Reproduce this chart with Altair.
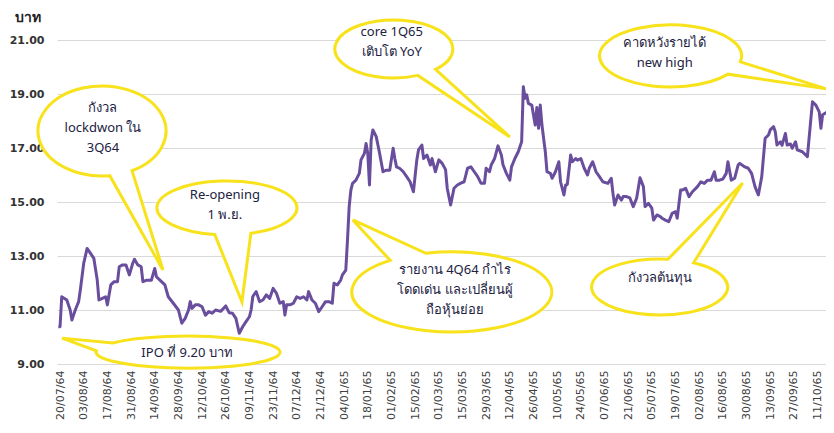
import math
import altair as alt
import pandas as pd

# ---- price series (day offset from 20/07/64, price in baht) ----
days = [
    -1, 0, 1, 4, 6, 7, 9, 11, 12, 14,
    16, 18, 20, 22, 23, 25, 27, 28, 30, 32,
    34, 35, 37, 39, 41, 43, 44, 46, 48, 49,
    51, 54, 56, 57, 60, 62, 64, 67, 70, 72,
    74, 76, 77, 78, 80, 82, 84, 86, 88, 90,
    92, 95, 98, 100, 102, 104, 106, 108, 110, 112,
    113, 114, 116, 118, 120, 122, 124, 126, 128, 130,
    132, 133, 134, 136, 138, 140, 142, 144, 146, 147,
    149, 151, 153, 155, 157, 159, 161, 162, 164, 166,
    167, 169, 170, 171, 172, 173, 175, 177, 178, 180,
    181, 182, 183, 184, 185, 187, 188, 189, 191, 193,
    195, 197, 198, 199, 201, 203, 205, 207, 209, 211,
    212, 214, 215, 217, 219, 220, 222, 224, 226, 228,
    229, 231, 233, 235, 237, 239, 241, 243, 245, 247,
    249, 251, 252, 254, 255, 257, 259, 261, 262, 264,
    266, 267, 269, 271, 273, 274, 275, 276, 277, 279,
    281, 282, 283, 284, 285, 287, 288, 290, 291, 293,
    295, 296, 298, 299, 300, 302, 303, 305, 306, 308,
    310, 312, 313, 315, 317, 319, 321, 324, 326, 327,
    328, 330, 332, 333, 335, 337, 339, 341, 343, 345,
    346, 348, 350, 351, 353, 355, 356, 358, 360, 362,
    364, 365, 367, 368, 370, 372, 374, 377, 379, 381,
    383, 385, 387, 388, 390, 392, 394, 395, 397, 399,
    401, 402, 405, 407, 409, 411, 413, 415, 417, 419,
    420, 422, 423, 424, 426, 427, 429, 430, 432, 433,
    435, 436, 439, 442, 444, 445, 447, 449, 450, 451,
    454, 456, 457,
]
prices = [
    10.38, 10.38, 11.49, 11.37, 11.0, 10.63, 11.0, 11.31, 11.74, 12.73,
    13.28, 13.1, 12.91, 12.11, 11.37, 11.43, 11.49, 11.19, 11.93, 12.05,
    12.05, 12.6, 12.67, 12.67, 12.3, 12.73, 12.88, 12.67, 12.6, 12.05,
    12.1, 12.1, 12.54, 12.23, 12.05, 11.93, 11.49, 11.25, 11.0, 10.51,
    10.69, 11.0, 11.31, 11.06, 11.19, 11.19, 11.12, 10.81, 10.94, 10.88,
    11.0, 10.95, 11.15, 10.9, 10.88, 10.69, 10.14, 10.38, 10.57, 10.75,
    11.0, 11.5, 11.68, 11.31, 11.37, 11.56, 11.43, 11.8, 11.62, 11.25,
    11.31, 10.81, 11.19, 11.19, 11.25, 11.49, 11.43, 11.49, 11.37, 11.68,
    11.37, 11.25, 10.94, 11.12, 11.31, 11.31, 11.25, 11.99, 11.93, 12.11,
    12.3, 12.48, 13.59, 14.83, 15.44, 15.69, 15.81, 16.06, 16.56, 16.8,
    17.17, 16.8, 15.63, 17.3, 17.67, 17.42, 17.11, 16.8, 16.12, 16.18,
    16.18, 16.99, 16.61, 16.3, 16.24, 16.12, 15.94, 15.75, 15.38, 16.56,
    16.93, 17.11, 16.61, 16.74, 16.37, 16.61, 16.12, 16.56, 16.43, 16.2,
    15.5, 14.89, 15.51, 15.63, 15.7, 15.75, 16.25, 16.3, 16.12, 15.94,
    15.69, 15.69, 16.25, 16.12, 16.37, 16.61, 17.08, 16.74, 16.37, 16.06,
    15.81, 16.3, 16.61, 16.86, 17.23, 19.27, 18.84, 18.97, 18.65, 18.59,
    17.85, 18.5, 17.73, 18.59, 17.85, 16.86, 16.12, 16.06, 15.88, 16.12,
    16.49, 15.75, 15.26, 15.63, 15.65, 16.74, 16.49, 16.61, 16.55, 16.61,
    16.25, 16.0, 16.25, 16.49, 16.12, 15.94, 15.75, 15.69, 15.88, 15.32,
    14.89, 15.26, 15.07, 15.2, 15.2, 15.15, 14.83, 15.14, 15.9, 15.57,
    14.83, 14.95, 14.77, 14.33, 14.52, 14.46, 14.4, 14.33, 14.27, 14.58,
    14.64, 14.4, 15.44, 15.44, 15.51, 15.2, 15.38, 15.57, 15.75, 15.69,
    15.81, 15.81, 16.12, 15.81, 15.81, 15.85, 16.06, 16.49, 15.81, 15.88,
    16.37, 16.43, 16.3, 16.25, 16.06, 15.57, 15.26, 15.94, 17.36, 17.48,
    17.67, 17.79, 17.6, 17.11, 17.23, 17.1, 17.54, 17.11, 17.15, 16.99,
    17.23, 16.93, 16.86, 16.68, 18.04, 18.71, 18.59, 18.34, 17.73, 18.23,
    18.34, 18.78, 18.8,
]

# ---- x-axis tick labels (every two weeks) ----
tick_days = [0, 14, 28, 42, 56, 70, 84, 98, 112, 126, 140, 154, 168, 182, 196, 210, 224,
             238, 252, 266, 280, 294, 308, 322, 336, 350, 364, 378, 392, 406, 420, 434, 448]
tick_labels = ["20/07/64", "03/08/64", "17/08/64", "31/08/64", "14/09/64", "28/09/64",
               "12/10/64", "26/10/64", "09/11/64", "23/11/64", "07/12/64", "21/12/64",
               "04/01/65", "18/01/65", "01/02/65", "15/02/65", "01/03/65", "15/03/65",
               "29/03/65", "12/04/65", "26/04/65", "10/05/65", "24/05/65", "07/06/65",
               "21/06/65", "05/07/65", "19/07/65", "02/08/65", "16/08/65", "30/08/65",
               "13/09/65", "27/09/65", "11/10/65"]
y_ticks = [9, 11, 13, 15, 17, 19, 21]

# ---- annotation bubbles ----
note_texts = [
    "กังวล\nlockdwon ใน\n3Q64",
    "Re-opening\n1 พ.ย.",
    "IPO ที่ 9.20 บาท",
    "core 1Q65\nเติบโต YoY",
    "คาดหวังรายได้\nnew high",
    "กังวลต้นทุน",
    "รายงาน 4Q64 กำไร\nโดดเด่น และเปลี่ยนผู้\nถือหุ้นย่อย",
]
# anchor of the first text line of each note
note_text_day = [25.4, 97.5, 75.1, 196.2, 357.6, 354.6, 233.5]
note_text_price = [18.48, 15.26, 9.41, 21.30, 20.89, 12.19, 12.48]
bubble_day = [24.8, 98.7, 75.7, 197.4, 361.1, 354.6, 231.7]
bubble_price = [17.63, 14.78, 9.44, 20.67, 20.41, 11.85, 11.67]
# ellipse radii (px), tail base angles (deg) and tail tip offset (px)
bubble_rx = [64, 70, 92, 59, 71, 68, 100]
bubble_ry = [45, 27, 16, 29, 31, 28, 40]
tail_a1 = [62, 70, 185, 45, 11, 277, 232]
tail_a2 = [83, 100, 215, 66, 36, 300, 255]
tail_tip = [(61, 139), (15, 94), (-126, -14), (116, 88), (156, 33), (83, -104), (-99, -72)]


def bubble_path(rx, ry, a1, a2, tip):
    r1, r2 = math.radians(a1), math.radians(a2)
    x1, y1 = rx * math.cos(r1), ry * math.sin(r1)
    x2, y2 = rx * math.cos(r2), ry * math.sin(r2)
    return (f"M{x2:.2f},{y2:.2f}A{rx},{ry} 0 1 1 {x1:.2f},{y1:.2f}"
            f"L{tip[0]},{tip[1]}Z")


paths = [bubble_path(*a) for a in zip(bubble_rx, bubble_ry, tail_a1, tail_a2, tail_tip)]

line_df = pd.DataFrame({"day": days, "price": prices})
bubble_df = pd.DataFrame({"day": bubble_day, "price": bubble_price, "path": paths})
text_df = pd.DataFrame({"day": note_text_day, "price": note_text_price, "label": note_texts})

label_array = "[" + ",".join(f"'{t}'" for t in tick_labels) + "]"

x_enc = alt.X(
    "day:Q",
    scale=alt.Scale(domain=[-1.8, 453], nice=False, zero=False),
    axis=alt.Axis(
        values=tick_days,
        labelExpr=label_array + "[round(datum.value/14)]",
        labelAngle=-90,
        labelFont="DejaVu Sans",
        labelFontSize=11,
        labelColor="#404040",
        labelPadding=6,
        labelOverlap=False,
        grid=False,
        domain=False,
        ticks=False,
        title=None,
    ),
)
y_enc = alt.Y(
    "price:Q",
    scale=alt.Scale(domain=[9, 21], nice=False, zero=False),
    axis=alt.Axis(
        values=y_ticks,
        format=".2f",
        grid=True,
        gridColor="#d9d9d9",
        gridWidth=1.2,
        domain=False,
        ticks=False,
        labelFont="DejaVu Sans",
        labelFontWeight="bold",
        labelFontSize=11,
        labelColor="#333333",
        labelPadding=13,
        title="บาท",
        titleAngle=0,
        titleX=-30,
        titleY=-23,
        titleAlign="center",
        titleBaseline="middle",
        titleFont="DejaVu Sans",
        titleFontSize=14,
        titleFontWeight="bold",
        titleColor="#222222",
    ),
)

YELLOW = "#F7E21B"

bubbles = alt.Chart(bubble_df).mark_point(
    filled=True, fill="white", stroke=YELLOW, strokeWidth=3, opacity=1, size=4
).encode(x=x_enc, y=y_enc, shape=alt.Shape("path:N", scale=None))

line = alt.Chart(line_df).mark_line(
    color="#6A4E9E", strokeWidth=3, clip=True, strokeJoin="round"
).encode(x=x_enc, y=y_enc)

texts = alt.Chart(text_df).mark_text(
    lineBreak="\n", font="Noto Sans", fontSize=13, color="#22223f",
    align="center", baseline="middle", lineHeight=20
).encode(x=x_enc, y=y_enc, text="label:N")

chart = alt.layer(bubbles, line, texts).properties(
    width=769,
    height=324,
    padding={"left": 49, "top": 32, "right": 0, "bottom": 58},
    autosize="none",
    background="white",
).configure_view(stroke=None)

chart.save("out.html", embed_options={"renderer": "svg", "actions": False})
